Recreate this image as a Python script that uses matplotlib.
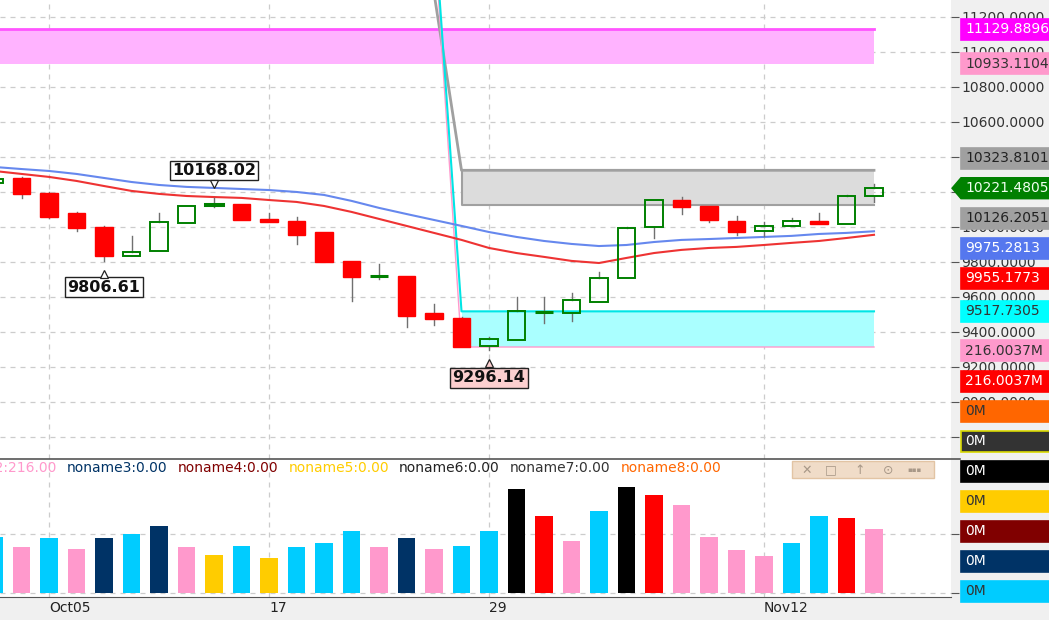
import numpy as np
import matplotlib.pyplot as plt
from matplotlib.patches import Rectangle, Polygon
from matplotlib.lines import Line2D
from matplotlib.ticker import FormatStrFormatter
from matplotlib.transforms import ScaledTranslation

# K线数据，序号 0~32
opens = [10251, 10280, 10194, 10080, 10000, 9834, 9863, 10023, 10128, 10131, 10046,
         10034, 9971, 9806, 9718, 9720, 9509, 9480, 9320, 9354, 9512, 9509,
         9571, 9709, 10000, 10154, 10120, 10034, 9977, 10006, 10034, 10017, 10177]
highs = [10280, 10285, 10198, 10083, 10003, 9949, 10080, 10122, 10168.02, 10133, 10080,
         10057, 9973, 9808, 9789, 9722, 9560, 9483, 9371, 9600, 9600, 9623,
         9743, 10000, 10156, 10171, 10122, 10063, 10029, 10051, 10080, 10180, 10246]
lows = [10248, 10166, 10052, 9977, 9806.61, 9832, 9861, 10020, 10114, 10038, 10026,
        9903, 9798, 9577, 9703, 9429, 9440, 9312, 9296.14, 9352, 9451, 9463,
        9569, 9707, 9937, 10074, 10029, 9954, 9949, 10003, 10015, 10015, 10143]
closes = [10274, 10189, 10057, 9994, 9834, 9857, 10029, 10120, 10134, 10040, 10029,
          9954, 9800, 9714, 9721, 9491, 9474, 9314, 9360, 9520, 9516, 9583,
          9709, 9994, 10154, 10114, 10040, 9971, 10006, 10034, 10017, 10177, 10221.48]

# 两条均线
ma_blue = [10343, 10331, 10320, 10303, 10280, 10257, 10240, 10229, 10223, 10217, 10211,
           10200, 10183, 10149, 10109, 10074, 10040, 10006, 9971, 9943, 9920, 9903,
           9891, 9897, 9914, 9926, 9931, 9937, 9943, 9949, 9960, 9966, 9975.28]
ma_red = [10320, 10303, 10286, 10263, 10234, 10206, 10189, 10177, 10171, 10166, 10154,
          10143, 10120, 10086, 10046, 10006, 9966, 9926, 9880, 9851, 9829, 9806,
          9794, 9823, 9851, 9869, 9880, 9886, 9897, 9909, 9920, 9937, 9955.18]

# 成交量 (M) 与所属序列
volumes = [189, 155, 186, 149, 186, 199, 226, 155, 128, 159, 118, 155, 169, 209, 155, 186,
           149, 159, 209, 354, 260, 176, 277, 358, 331, 297, 189, 145, 125, 169, 260, 253, 216]
vol_series = ['cyan', 'pink', 'cyan', 'pink', 'navy', 'cyan', 'navy', 'pink', 'yellow', 'cyan',
              'yellow', 'cyan', 'cyan', 'cyan', 'pink', 'navy', 'pink', 'cyan', 'cyan', 'black',
              'red', 'pink', 'cyan', 'black', 'red', 'pink', 'pink', 'pink', 'pink', 'cyan',
              'cyan', 'red', 'pink']
vol_palette = {'cyan': '#00CCFF', 'pink': '#FF99CC', 'navy': '#003366', 'yellow': '#FFCC00',
               'black': '#000000', 'red': '#FF0000'}

date_pos = [2, 10, 18, 28]
date_labels = ['Oct05', '17', '29', 'Nov12']

# 区域 (下沿, 上沿) 与连线锚点
zone_magenta = (10933.1104, 11129.8896)
zone_gray = (10126.2051, 10323.8101)
zone_cyan = (9314.0, 9517.7305)
zone_start, zone_end = 17, 32
anchor_gray = (14.36, 13000.0)
anchor_cyan = (15.45, 13000.0)

# 右侧价格标签: 数值, 底色, 字色
last_price = 10221.4805
main_tags = [(11129.8896, '#FF00FF', 'white'), (10933.1104, '#FF99CC', '#333333'),
             (10323.8101, '#A0A0A0', '#222222'), (10221.4805, '#008000', '#F0FFF0'),
             (10126.2051, '#A0A0A0', '#222222'), (9975.2813, '#5577EE', 'white'),
             (9955.1773, '#FF0000', 'white'), (9517.7305, '#00FFFF', '#333333')]
vol_tags = [(216.0037, '#FF99CC', '#333333'), (216.0037, '#FF0000', 'white'),
            (0, '#FF6600', '#333333'), (0, '#333333', 'white'), (0, '#000000', 'white'),
            (0, '#FFCC00', '#333333'), (0, '#800000', 'white'), (0, '#003366', 'white'),
            (0, '#00CCFF', '#333333')]
legend_items = [('noname2', 216.0, '#FF99CC'), ('noname3', 0.0, '#003366'),
                ('noname4', 0.0, '#800000'), ('noname5', 0.0, '#FFCC00'),
                ('noname6', 0.0, '#222222'), ('noname7', 0.0, '#333333'),
                ('noname8', 0.0, '#FF6600')]

W, H = 1049, 620
fig = plt.figure(figsize=(W / 100, H / 100), dpi=100, facecolor='#F0F0F0')
ax = fig.add_axes([0, 161 / H, 951 / W, 459 / H])
ax2 = fig.add_axes([0, 23 / H, 951 / W, 138 / H], sharex=ax)
grid_kw = dict(color='#CCCCCC', ls=(0, (4, 4)), lw=0.9)

n = len(opens)
idx = np.arange(n)
bw = 0.64
ax.set_xlim(0.218, 34.8)
ax.set_ylim(8674, 11297)

# 区域
ax.fill_between([-2, zone_end], *zone_magenta, color='#FFB3FF', lw=0, zorder=1)
ax.plot([-2, zone_end], [zone_magenta[1]] * 2, color='#FF55FF', lw=2, zorder=1.5)
ax.fill_between([zone_start, zone_end], *zone_gray, color='#DCDCDC', lw=0, zorder=1)
ax.plot([anchor_gray[0], zone_start, zone_end], [anchor_gray[1], zone_gray[1], zone_gray[1]],
        color='#A0A0A0', lw=2, zorder=1.5)
ax.plot([zone_start, zone_start, zone_end], [zone_gray[1], zone_gray[0], zone_gray[0]],
        color='#A0A0A0', lw=1.5, zorder=1.5)
ax.fill_between([zone_start, zone_end], *zone_cyan, color='#AAFFFF', lw=0, zorder=1)
ax.plot([anchor_cyan[0], zone_start, zone_end], [anchor_cyan[1], zone_cyan[1], zone_cyan[1]],
        color='#00E5E5', lw=1.5, zorder=1.6)
ax.plot([anchor_cyan[0], zone_start, zone_end], [anchor_cyan[1], zone_cyan[0], zone_cyan[0]],
        color='#FF99CC', lw=1, zorder=1.5)

# 均线
ax.plot(idx, ma_blue, color='#6688EE', lw=1.5, zorder=3)
ax.plot(idx, ma_red, color='#EE3333', lw=1.5, zorder=3)

# K线
for i in range(n):
    o, h, l, c = opens[i], highs[i], lows[i], closes[i]
    top, bot = max(o, c), min(o, c)
    ax.plot([i, i], [top, h], color='#707070', lw=1, zorder=3.5)
    ax.plot([i, i], [l, bot], color='#707070', lw=1, zorder=3.5)
    if c >= o:
        ax.add_patch(Rectangle((i - bw / 2, bot), bw, top - bot, fc='none', ec='#008000',
                               lw=1.4 if top - bot > 10 else 2.2, zorder=4))
    else:
        ax.add_patch(Rectangle((i - bw / 2, bot), bw, top - bot, fc='#FF0000', ec='#FF0000',
                               lw=1, zorder=4))

# 高低点标注
def mark(i, val, dy, face):
    ax.annotate('%.2f' % val, xy=(i, val), xytext=(0, dy), textcoords='offset points',
                ha='center', va='center', fontsize=11.5, fontweight='bold', color='#111111',
                bbox=dict(boxstyle='square,pad=0.15', fc=face, ec='#222222', lw=1), zorder=6)
    off = ScaledTranslation(0, np.sign(dy) * 9.5 / 72, fig.dpi_scale_trans)
    ax.plot([i], [val], marker='v' if dy > 0 else '^', ms=6, mfc=face, mec='#222222', mew=0.9,
            transform=ax.transData + off, zorder=7, clip_on=False)

mark(8, highs[8], 19.5, 'white')
mark(4, lows[4], -19, 'white')
mark(18, lows[18], -20, '#FCCFCF')

ax.set_yticks(np.arange(8800, 11201, 200))
ax.yaxis.tick_right()
ax.yaxis.set_major_formatter(FormatStrFormatter('%.4f'))
ax.tick_params(axis='y', length=6, pad=1.5, labelsize=10, labelcolor='#333333', color='#555555')
ax.set_xticks(date_pos)
ax.tick_params(axis='x', length=0, labelbottom=False)
ax.grid(True, **grid_kw)
ax.set_axisbelow(True)
for s in ax.spines.values():
    s.set_visible(False)

# 成交量
ax2.bar(idx, volumes, width=bw, color=[vol_palette[k] for k in vol_series], zorder=3)
ax2.set_ylim(-13.6, 454)
ax2.set_yticks([0, 200])
ax2.yaxis.tick_right()
ax2.tick_params(axis='y', length=6, labelright=False, color='#555555')
ax2.set_xticks(date_pos)
ax2.set_xticklabels(date_labels, ha='left')
ax2.tick_params(axis='x', length=0, pad=3, labelsize=10, labelcolor='#222222')
ax2.grid(True, **grid_kw)
ax2.set_axisbelow(True)
for k, s in ax2.spines.items():
    s.set_visible(k == 'bottom')
ax2.spines['bottom'].set_color('#555555')
fig.add_artist(Line2D([0, 960 / W], [1 - 459 / H] * 2, color='#555555', lw=1.2,
                      transform=fig.transFigure))

# 成交量图例文字
r = fig.canvas.get_renderer()
texts = []
for name, val, col in legend_items:
    texts.append(fig.text(0, 1 - 468 / H, '%s:%.2f' % (name, val), color=col, fontsize=10,
                          va='center', ha='left'))
widths = [t.get_window_extent(r).width for t in texts]
x = 67 - 10 - widths[0]
for t, w in zip(texts, widths):
    t.set_x(x / W)
    x += w + 10

# 窗口小按钮
fig.add_artist(Rectangle((792 / W, 1 - 478 / H), 142 / W, 17 / H, fc='#F0DCC8', ec='#E2C4A4',
                         lw=1, transform=fig.transFigure))
for sx, sym in zip([807, 831, 860, 888, 915], ['✕', '□', '↑', '⊙', '▪▪▪']):
    fig.text(sx / W, 1 - 470 / H, sym, color='#A89888', fontsize=9 if sym != '▪▪▪' else 5,
             ha='center', va='center')

# 右侧标签 (以最新价为准，上方向上、下方向下避让)
def tag(yc, face, tcol, txt, arrow=False, edge=None):
    if arrow:
        pts = [(952, yc), (961, yc - 10.5), (W + 2, yc - 10.5), (W + 2, yc + 10.5), (961, yc + 10.5)]
        fig.add_artist(Polygon([(px / W, 1 - py / H) for px, py in pts], closed=True, fc=face,
                               ec=face, transform=fig.transFigure, zorder=5))
    else:
        fig.add_artist(Rectangle((961 / W, 1 - (yc + 10.5) / H), (W - 959) / W, 21 / H, fc=face,
                                 ec=edge or face, lw=1.2, transform=fig.transFigure, zorder=5))
    fig.text(965 / W, 1 - yc / H, txt, color=tcol, fontsize=10, ha='left', va='center', zorder=6)

def ypix(a, v):
    return H - a.transData.transform((0, v))[1]

y_last = ypix(ax, last_price)
above = sorted([t for t in main_tags if t[0] > last_price], key=lambda t: t[0])
below = sorted([t for t in main_tags if t[0] < last_price], key=lambda t: -t[0])
tag(y_last, '#008000', '#F0FFF0', '%.4f' % last_price, arrow=True)
prev = y_last
for val, face, tcol in above:
    prev = min(ypix(ax, val), prev - 30)
    tag(prev, face, tcol, '%.4f' % val)
prev = y_last
for val, face, tcol in below:
    prev = max(ypix(ax, val), prev + 30)
    tag(prev, face, tcol, '%.4f' % val)

prev = 1e9
for val, face, tcol in reversed(vol_tags):
    prev = min(ypix(ax2, val), 591, prev - 30)
    tag(prev, face, tcol, '%.4fM' % val if val else '0M',
        edge='#D8D800' if face == '#333333' else None)

plt.savefig('out.png', dpi=100, facecolor=fig.get_facecolor())
